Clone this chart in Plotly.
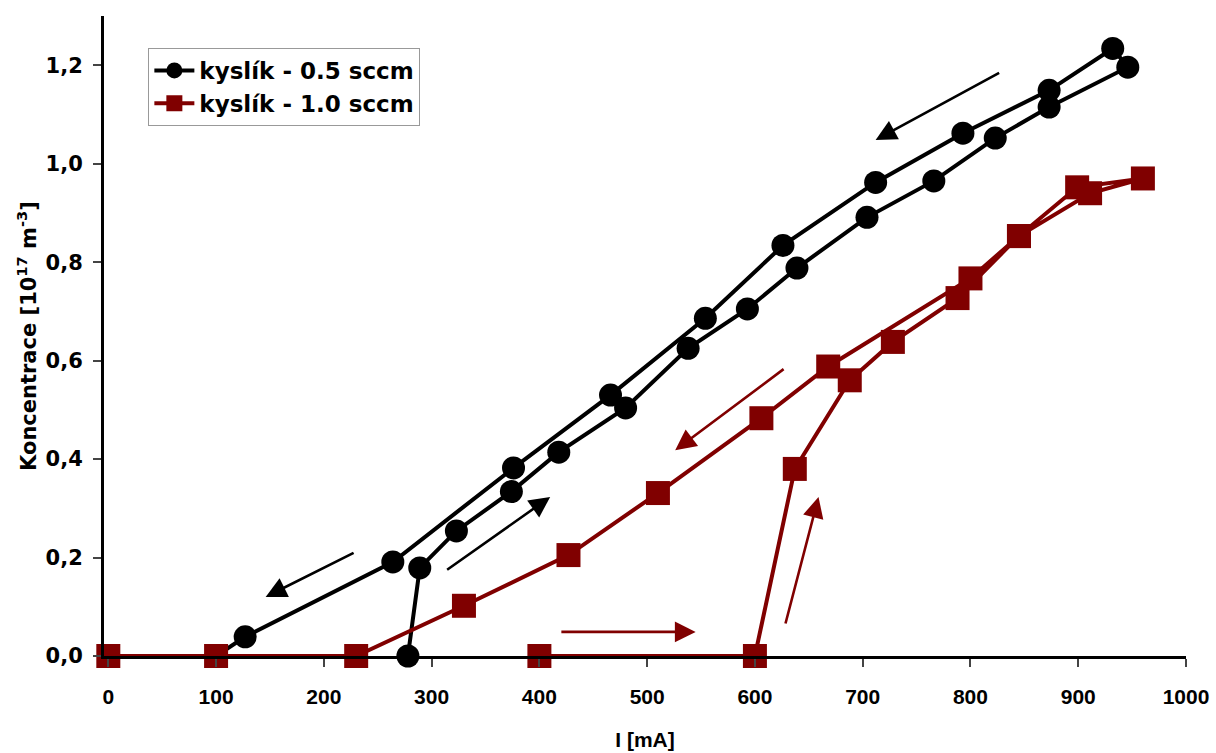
import plotly.graph_objects as go

# Series 1: kyslík - 0.5 sccm (path: increasing branch then decreasing branch)
i_05 = [278, 289, 323, 374, 418, 480, 538, 593, 639, 704, 766, 823, 873, 946, 932,
        873, 793, 712, 626, 554, 466, 376, 264, 127, 100]
c_05 = [0.0, 0.179, 0.254, 0.334, 0.414, 0.504, 0.625, 0.705, 0.788, 0.891, 0.965, 1.052, 1.115, 1.196, 1.234,
        1.149, 1.062, 0.962, 0.834, 0.686, 0.530, 0.382, 0.191, 0.039, 0.0]

# Series 2: kyslík - 1.0 sccm
i_10 = [400, 600, 637, 688, 728, 788, 845, 911, 960,
        899, 845, 800, 668, 606, 510, 427, 330, 230, 100, 0]
c_10 = [0.0, 0.0, 0.380, 0.560, 0.638, 0.727, 0.853, 0.940, 0.970,
        0.952, 0.853, 0.767, 0.588, 0.483, 0.331, 0.205, 0.102, 0.0, 0.0, 0.0]

series_names = ["kyslík - 0.5 sccm", "kyslík - 1.0 sccm"]

x_ticks = [0, 100, 200, 300, 400, 500, 600, 700, 800, 900, 1000]
y_ticks = [0.0, 0.2, 0.4, 0.6, 0.8, 1.0, 1.2]
y_ticktext = ["0,0", "0,2", "0,4", "0,6", "0,8", "1,0", "1,2"]

# Direction arrows (tail -> head) in data units
arrow_tail_x = [828, 229, 313, 628, 419, 628]
arrow_tail_y = [1.186, 0.211, 0.173, 0.585, 0.049, 0.063]
arrow_head_x = [712, 146, 410, 526, 545, 659]
arrow_head_y = [1.048, 0.120, 0.323, 0.418, 0.049, 0.323]
arrow_colors = ["black", "black", "black", "#800000", "#800000", "#800000"]

RED = "#800000"
WIDE = "DejaVu Sans, Verdana, sans-serif"
ARIAL = "Liberation Sans, Arial, sans-serif"

fig = go.Figure()
fig.add_trace(go.Scatter(
    x=i_05, y=c_05, name=series_names[0], mode="lines+markers",
    line=dict(color="black", width=4),
    marker=dict(symbol="circle", size=23, color="black"),
    cliponaxis=False,
))
fig.add_trace(go.Scatter(
    x=i_10, y=c_10, name=series_names[1], mode="lines+markers",
    line=dict(color=RED, width=4),
    marker=dict(symbol="square", size=24, color=RED),
    cliponaxis=False,
))

for tx, ty, hx, hy, col in zip(arrow_tail_x, arrow_tail_y, arrow_head_x, arrow_head_y, arrow_colors):
    fig.add_annotation(
        x=hx, y=hy, ax=tx, ay=ty, xref="x", yref="y", axref="x", ayref="y",
        text="", showarrow=True, arrowhead=2, arrowsize=1.6, arrowwidth=2.6,
        arrowcolor=col,
    )

fig.update_layout(
    width=1216, height=753, autosize=False,
    margin=dict(l=104, r=30, t=16, b=97),
    paper_bgcolor="white", plot_bgcolor="white",
    font=dict(family=WIDE, color="black", size=19, weight="bold"),
    showlegend=True,
    legend=dict(
        x=0.041, y=0.95, xanchor="left", yanchor="top",
        bgcolor="white", bordercolor="#999999", borderwidth=1,
        font=dict(family=WIDE, size=23, color="black", weight="bold"),
        itemwidth=40, tracegroupgap=0,
    ),
    xaxis=dict(
        range=[-4, 1000], tickvals=x_ticks, ticks="outside", ticklen=8, tickwidth=2,
        showline=True, linewidth=3, linecolor="black", showgrid=False, zeroline=False,
        automargin=False, ticklabelstandoff=12,
        tickfont=dict(family=ARIAL, size=21, weight="bold"),
        title=dict(text="I [mA]", font=dict(family=ARIAL, size=21, weight="bold"), standoff=26),
    ),
    yaxis=dict(
        range=[0, 1.3], tickvals=y_ticks, ticktext=y_ticktext, ticks="outside", ticklen=8, tickwidth=2,
        showline=True, linewidth=3, linecolor="black", showgrid=False, zeroline=False,
        automargin=False, ticklabelstandoff=6,
        tickfont=dict(family=WIDE, size=21, weight="bold"),
        title=dict(text="Koncentrace [10<sup>17</sup> m<sup>-3</sup>]",
                   font=dict(family=WIDE, size=21, weight="bold"), standoff=4),
    ),
)

fig.write_html("out.html")
